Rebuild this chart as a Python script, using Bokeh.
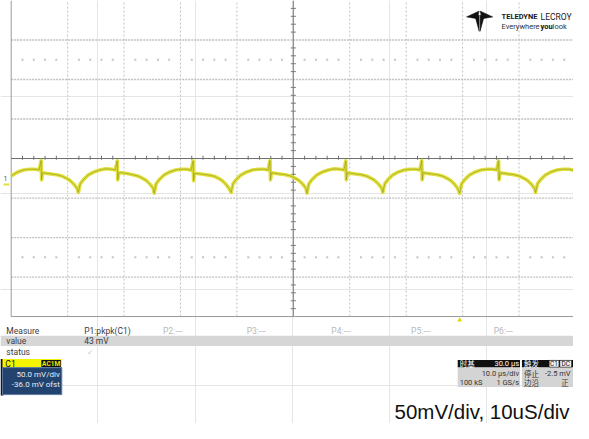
from bokeh.plotting import figure
from bokeh.models import Range1d
from bokeh.core.properties import value
from bokeh.embed import file_html
from bokeh.resources import INLINE

# ---------------- data ----------------
# time in microseconds (10 us/div), voltage in mV relative to screen centre (50 mV/div)
trace_t = [
    -50.00, -48.84, -47.81, -46.77, -45.74, -45.05, -44.70, -44.62, -44.44, -44.01,
    -42.98, -41.94, -40.91, -40.22, -39.53, -38.84, -38.32,
    -38.10, -37.76, -37.24, -36.38, -35.34, -34.31, -33.27, -32.24, -31.55, -31.20,
    -31.12, -30.94, -30.51, -29.48, -28.44, -27.41, -26.72, -26.03, -25.34, -24.82,
    -24.66, -24.32, -23.80, -22.94, -21.90, -20.87, -19.83, -18.80, -18.11, -17.76,
    -17.68, -17.50, -17.07, -16.04, -15.00, -13.97, -13.28, -12.59, -11.90, -11.38,
    -11.03, -10.69, -10.17, -9.31, -8.27, -7.24, -6.20, -5.17, -4.48, -4.13,
    -4.05, -3.87, -3.44, -2.41, -1.37, -0.34, 0.35, 1.04, 1.73, 2.25,
    2.41, 2.75, 3.27, 4.13, 5.17, 6.20, 7.24, 8.27, 8.96, 9.31,
    9.39, 9.57, 10.00, 11.03, 12.07, 13.10, 13.79, 14.48, 15.17, 15.69,
    15.86, 16.20, 16.72, 17.58, 18.62, 19.65, 20.69, 21.72, 22.41, 22.76,
    22.84, 23.02, 23.45, 24.48, 25.52, 26.55, 27.24, 27.93, 28.62, 29.14,
    29.48, 29.82, 30.34, 31.20, 32.24, 33.27, 34.31, 35.34, 36.03, 36.38,
    36.46, 36.64, 37.07, 38.10, 39.14, 40.17, 40.86, 41.55, 42.24, 42.76,
    42.93, 43.27, 43.79, 44.65, 45.69, 46.72, 47.76, 48.79, 49.48, 49.70,
]
trace_mv = [
    -22.0, -17.0, -14.5, -13.5, -13.5, -14.5, -2.5, -27.0, -18.0, -18.5,
    -19.5, -20.5, -22.5, -25.0, -28.0, -33.0, -38.0,
    -43.0, -32.0, -27.0, -21.0, -17.0, -14.5, -13.0, -13.5, -14.5, -3.0,
    -27.0, -18.0, -18.0, -19.0, -20.5, -22.5, -25.0, -28.0, -33.0, -38.0,
    -44.0, -32.0, -27.0, -21.0, -17.0, -14.5, -13.5, -13.5, -15.0, -3.0,
    -28.0, -19.0, -19.0, -20.0, -21.0, -22.5, -25.0, -28.0, -33.0, -38.0,
    -43.0, -32.0, -27.0, -21.0, -17.0, -14.5, -13.5, -13.5, -14.5, -2.5,
    -27.0, -18.0, -18.5, -19.5, -20.5, -22.5, -25.0, -28.0, -33.0, -38.0,
    -44.0, -32.0, -27.0, -21.0, -17.0, -14.5, -13.0, -13.5, -14.5, -3.0,
    -27.0, -18.0, -18.5, -19.5, -20.5, -22.5, -25.0, -28.0, -33.0, -38.0,
    -43.0, -32.0, -27.0, -21.0, -17.0, -14.5, -13.5, -13.5, -14.5, -2.5,
    -27.0, -18.0, -18.5, -19.5, -20.5, -22.5, -25.0, -28.0, -33.0, -38.0,
    -44.0, -32.0, -27.0, -21.0, -17.0, -14.5, -13.5, -13.5, -14.5, -3.0,
    -27.0, -18.0, -18.5, -19.5, -20.5, -22.5, -25.0, -28.0, -33.0, -38.0,
    -43.0, -32.0, -27.0, -21.0, -17.0, -14.5, -13.5, -13.5, -14.5, -15.0,
]
time_divs = [-40, -30, -20, -10, 10, 20, 30, 40]
volt_divs = [-150, -100, -50, 50, 100, 150]
trigger_time = [29.48]

measure_names = ["P1:pkpk(C1)", "P2:---", "P3:---", "P4:---", "P5:---", "P6:---"]
measure_values = ["43 mV"]
caption = "50mV/div, 10uS/div"

# ---------------- figure ----------------
W, H = 573, 423
p = figure(width=W, height=H, x_range=Range1d(0, 589), y_range=Range1d(439, 0),
           x_axis_location=None, y_axis_location=None, toolbar_location=None,
           output_backend="svg", min_border=0, outline_line_color=None,
           background_fill_color="white", border_fill_color="white")
p.extra_x_ranges = {"t": Range1d(-51.8966, 49.655)}
p.extra_y_ranges = {"mv": Range1d(-335.37, 200.0)}
S = dict(x_range_name="t", y_range_name="mv")

GRID = "#c0c0c0"
# grid lines (dotted)
p.segment(x0=time_divs, y0=-200, x1=time_divs, y1=200, line_color=GRID,
          line_width=1, line_dash="2 2", **S)
p.segment(x0=-50, y0=volt_divs, x1=50, y1=volt_divs, line_color=GRID,
          line_width=1.3, line_dash="2 1", **S)
# frame borders
p.segment(x0=[-50], y0=[-200], x1=[-50], y1=[200], line_color="#9a9a9a", line_width=1, **S)
p.segment(x0=[-50], y0=[-200], x1=[50], y1=[-200], line_color="#9a9a9a", line_width=1, **S)
# centre cross
p.segment(x0=[-50], y0=[0], x1=[50], y1=[0], line_color="#6e6e6e", line_width=1, **S)
p.segment(x0=[0], y0=[-200], x1=[0], y1=[200], line_color="#7a7a7a", line_width=1, **S)
# sub-division ticks on centre cross
sub_t = [x for x in range(-48, 50, 2) if x % 10 != 0]
sub_v = [v for v in range(-190, 200, 10) if v % 50 != 0]
p.segment(x0=sub_t, y0=-1.5, x1=sub_t, y1=3.5, line_color="#6e6e6e", line_width=1, **S)
p.segment(x0=-0.45, y0=sub_v, x1=0.45, y1=sub_v, line_color="#7a7a7a", line_width=1, **S)
# dotted sub-division rows
for vv in (125, -125):
    p.scatter(x=sub_t, y=[vv] * len(sub_t), marker="square", size=2,
              fill_color="#c4c4c4", line_color=None, **S)

# trace
p.line(trace_t, trace_mv, line_color="#e0e03e", line_width=3.6, line_join="round", **S)
p.line(trace_t, trace_mv, line_color="#85851c", line_width=1, line_alpha=0.5,
       line_join="round", **S)

# channel marker at left and trigger marker
p.text(x=[3], y=[185], text=["1"], text_font=value("Roboto"),
       text_font_size="7px", text_color="#555555", text_baseline="middle")
p.segment(x0=[3], y0=[191], x1=[9], y1=[191], line_color="#e0e03e", line_width=2)
p.scatter(x=trigger_time, y=[-204.5], marker="triangle", size=5,
          fill_color="#e8d800", line_color=None, **S)

# logo
p.patches(xs=[[479, 492, 490], [506, 493, 495], [488, 492, 492], [497, 493, 493]],
          ys=[[17, 11, 19], [17, 11, 19], [17, 15, 32], [17, 15, 32]],
          fill_color="#111111", line_color="#111111", line_width=0.5)

UI = value("Roboto")
CJK = value("Noto Sans CJK SC")


def txt(x, y, s, size, color="#333333", align="left", font=UI, style="normal",
        baseline="middle"):
    p.text(x=[x], y=[y], text=[s], text_font=font, text_font_size=size,
           text_color=color, text_align=align, text_baseline=baseline,
           text_font_style=style)


txt(515, 17, "TELEDYNE", "7.5px", "#1a1a1a", style="bold")
txt(587, 17, "LECROY", "8.5px", "#1a1a1a", align="right")
txt(515, 27.5, "Everywhere", "7.5px", "#333333")
txt(555, 27.5, "you", "7.5px", "#111111", style="bold")
txt(567.5, 27.5, "look", "7.5px", "#333333")

# ---------------- measurement panel ----------------
p.quad(left=[0], right=[589], top=[348], bottom=[358.5], fill_color="#d6d6d6", line_color=None)
FS = "8.5px"
txt(6, 343, "Measure", FS, "#3c3c3c")
mx = [86, 167, 253, 340, 422, 507]
for i, name in enumerate(measure_names):
    txt(mx[i], 343, name, FS, "#3c3c3c" if i == 0 else "#b8b8b8")
txt(6, 353.5, "value", FS, "#3c3c3c")
txt(86, 353.5, measure_values[0], FS, "#3c3c3c")
txt(6, 365, "status", FS, "#3c3c3c")
txt(89, 365, "\u2713", "8px", "#c8c8c8", font=value("DejaVu Sans"))

# C1 channel box
p.quad(left=[0], right=[3], top=[372], bottom=[410], fill_color="#111111", line_color=None)
p.quad(left=[2], right=[63], top=[372], bottom=[381], fill_color="#f4f400", line_color=None)
p.quad(left=[42], right=[62], top=[373], bottom=[380.5], fill_color="#111111", line_color=None)
p.quad(left=[2], right=[63], top=[381], bottom=[409], fill_color="#23436f",
       line_color="#5f7ba3", line_width=1)
txt(5, 376.8, "C1", "8.5px", "#111111")
txt(52, 376.8, "AC1M", "6.5px", "#e8e800", align="center", style="bold")
txt(61, 388.5, "50.0 mV/div", "8px", "#e6ecf5", align="right")
txt(61, 398.5, "-36.0 mV ofst", "8px", "#e6ecf5", align="right")

# timebase box
p.quad(left=[470], right=[534], top=[373], bottom=[381], fill_color="#111111", line_color=None)
p.quad(left=[470], right=[534], top=[381], bottom=[401], fill_color="#d4d4d4", line_color=None)
txt(472, 377, "时基", "7.5px", "#ffffff", font=CJK)
txt(533, 377, "30.0 µs", "7.5px", "#ffffff", align="right")
txt(533, 387.5, "10.0 µs/div", "7.5px", "#333333", align="right")
txt(472, 396.5, "100 kS", "7.5px", "#333333")
txt(533, 396.5, "1 GS/s", "7.5px", "#333333", align="right")

# trigger box
p.quad(left=[536], right=[589], top=[373], bottom=[381], fill_color="#111111", line_color=None)
p.quad(left=[536], right=[589], top=[381], bottom=[401], fill_color="#d4d4d4", line_color=None)
p.quad(left=[564, 575], right=[574, 587], top=[373.5, 373.5], bottom=[380.5, 380.5],
       fill_color="#f2f2f2", line_color="#111111", line_width=0.5)
txt(538, 377, "触发", "7.5px", "#ffffff", font=CJK)
txt(569, 377, "C1", "6.5px", "#111111", align="center")
txt(581, 377, "DC", "6.5px", "#111111", align="center")
txt(538, 387.5, "停止", "7.5px", "#333333", font=CJK)
txt(586, 387.5, "-2.5 mV", "7.5px", "#333333", align="right")
txt(538, 396.5, "边沿", "7.5px", "#333333", font=CJK)
txt(584, 396.5, "正", "7.5px", "#333333", font=CJK, align="right")

# caption
txt(405, 427, caption, "20.5px", "#111111", font=value("Liberation Sans"), baseline="alphabetic")

open("out.html", "w").write(file_html(p, INLINE))
